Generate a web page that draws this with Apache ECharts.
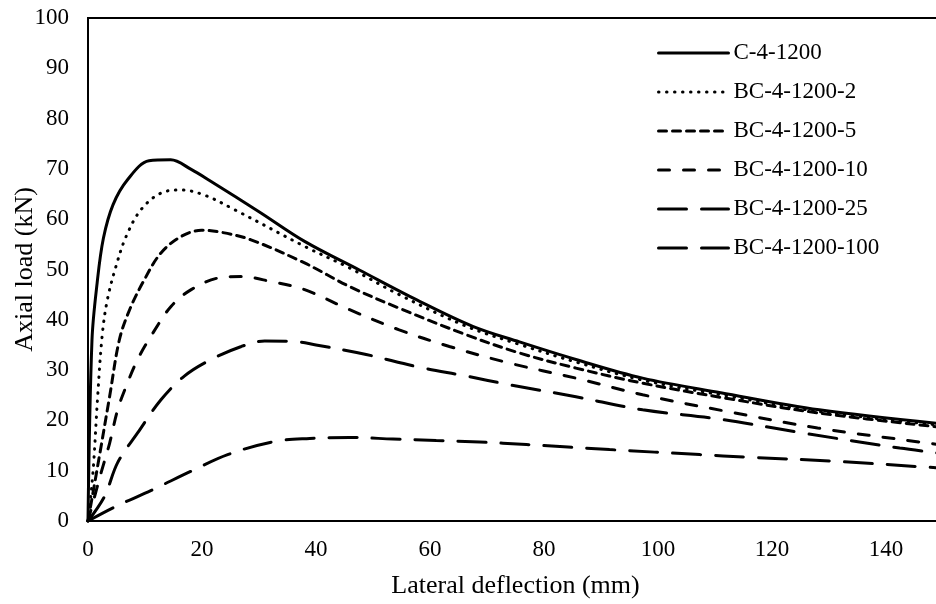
<!DOCTYPE html>
<html>
<head>
<meta charset="utf-8">
<script src="https://cdn.jsdelivr.net/npm/echarts@6/dist/echarts.min.js"></script>
<style>html,body{margin:0;padding:0;background:#fff;}#c{width:936px;height:604px;}</style>
</head>
<body>
<div id="c"></div>
<script>
// Data
var seriesNames = ['C-4-1200', 'BC-4-1200-2', 'BC-4-1200-5', 'BC-4-1200-10', 'BC-4-1200-25', 'BC-4-1200-100'];

var c1200X = [0, 0.7, 1.6, 2.7, 4.4, 6.9, 10.7, 14.5, 18.1, 21.6, 30, 38, 47.6, 57.6, 67.5, 75.7, 85.6, 97.3, 111, 128.3, 150];
var c1200Y = [0, 36, 47.3, 56.2, 62.9, 67.8, 71.6, 71.8, 69.9, 67.5, 61.5, 55.6, 49.9, 44.0, 38.7, 35.6, 32.1, 28.4, 25.5, 22.1, 19.3];

var bc2X = [0, 0.56, 1.0, 1.7, 2.5, 3.4, 4.9, 6.7, 9.3, 12.8, 16.4, 20.4, 25.7, 38, 45.9, 54.6, 66.4, 75.7, 85.6, 97.3, 112, 128, 150];
var bc2Y = [0, 5.7, 11.6, 24.8, 37, 44, 50.6, 56.6, 61.9, 65.2, 65.8, 64.8, 61.9, 54.6, 50.3, 45, 38.7, 35.1, 31.6, 28.0, 24.9, 21.8, 19.0];

var bc5X = [0, 2.0, 3.8, 5.5, 7.3, 9.9, 12.8, 16.4, 19.9, 23.4, 28.6, 38, 45.9, 54.6, 66.4, 75.7, 85.6, 97.3, 112.5, 128, 150];
var bc5Y = [0, 12.9, 24.8, 36, 42, 48, 53.3, 56.6, 57.8, 57.4, 55.9, 51.3, 46.6, 42.3, 37.0, 33.4, 30.4, 27.4, 24.3, 21.5, 18.6];

var bc10X = [0, 2.3, 3.8, 5.2, 6.7, 8.7, 11.4, 14.6, 18.1, 22.8, 26.9, 32.1, 38, 45.9, 54.6, 63.4, 73.9, 85.6, 97.3, 112, 128, 145.9, 150];
var bc10Y = [0, 9.6, 15.5, 22.1, 26.8, 32.1, 37.4, 42.7, 46, 48.3, 48.6, 47.6, 46, 42, 38, 34.7, 31.4, 28.4, 25.1, 21.8, 18.5, 15.7, 15.1];

var bc25X = [0, 2.9, 5.2, 8.7, 12.8, 16.9, 21.6, 26.9, 31, 36.2, 40, 48.8, 57.6, 66.4, 73.9, 85.6, 97.3, 110.5, 125.4, 142.4, 150];
var bc25Y = [0, 4.9, 11.6, 17.5, 24.1, 28.8, 32.1, 34.7, 35.8, 35.7, 35.0, 33.1, 30.7, 28.8, 27.1, 24.7, 22.1, 20.3, 17.5, 14.5, 13.4];

var bc100X = [0, 4.7, 11.1, 18.1, 24.5, 32.7, 38.9, 45.9, 53.5, 61.1, 68.7, 76.9, 91.5, 107.3, 115.5, 130.7, 145.9, 150];
var bc100Y = [0, 2.8, 6.1, 9.9, 13.2, 15.8, 16.4, 16.6, 16.3, 16.0, 15.7, 15.2, 14.2, 13.2, 12.7, 11.9, 10.8, 10.5];

var xTicks = [0, 20, 40, 60, 80, 100, 120, 140];
var yTicks = [0, 10, 20, 30, 40, 50, 60, 70, 80, 90, 100];

var allX = [c1200X, bc2X, bc5X, bc10X, bc25X, bc100X];
var allY = [c1200Y, bc2Y, bc5Y, bc10Y, bc25Y, bc100Y];

function pairs(xs, ys) { return xs.map(function (x, i) { return [x, ys[i]]; }); }

var styles = [
  { type: 'solid', width: 3, cap: 'round' },
  { type: [0.5, 7.5], width: 3, cap: 'round' },
  { type: [8, 6], width: 3, cap: 'round' },
  { type: [11, 14], width: 3, cap: 'round' },
  { type: [28, 15], width: 3, cap: 'round' },
  { type: [28, 15], width: 3, cap: 'round' }
];

var FONT = '"Liberation Serif", "Times New Roman", serif';

var chart = echarts.init(document.getElementById('c'), null, { renderer: 'canvas' });
chart.setOption({
  animation: false,
  backgroundColor: '#fff',
  grid: {
    left: 88, top: 18, width: 855, height: 503,
    containLabel: false, outerBoundsMode: 'none',
    show: true, borderColor: '#000', borderWidth: 2, backgroundColor: 'transparent'
  },
  legend: {
    orient: 'vertical',
    left: 652, top: 35,
    itemWidth: 70, itemHeight: 14, itemGap: 13,
    itemStyle: { color: 'rgba(0,0,0,0)', borderWidth: 0, opacity: 0 },
    textStyle: { fontFamily: FONT, fontSize: 23, color: '#000', lineHeight: 26 },
    data: seriesNames.map(function (n, i) {
      return { name: n, lineStyle: styles[i], itemStyle: { color: 'rgba(0,0,0,0)', borderWidth: 0, opacity: 0 } };
    })
  },
  xAxis: {
    type: 'value', min: 0, max: 150, interval: 20,
    name: 'Lateral deflection (mm)', nameLocation: 'middle', nameGap: 52,
    nameMoveOverlap: false,
    nameTextStyle: { fontFamily: FONT, fontSize: 26, color: '#000' },
    axisLine: { show: true, lineStyle: { color: '#000', width: 2 } },
    axisTick: { show: false },
    splitLine: { show: false },
    axisLabel: {
      fontFamily: FONT, fontSize: 23, color: '#000', margin: 17,
      formatter: function (v) { return xTicks.indexOf(v) >= 0 ? String(v) : ''; }
    }
  },
  yAxis: {
    type: 'value', min: 0, max: 100, interval: 10,
    name: 'Axial load (kN)', nameLocation: 'middle', nameGap: 50,
    nameMoveOverlap: false,
    nameTextStyle: { fontFamily: FONT, fontSize: 26, color: '#000' },
    axisLine: { show: true, lineStyle: { color: '#000', width: 2 } },
    axisTick: { show: false },
    splitLine: { show: false },
    axisLabel: {
      fontFamily: FONT, fontSize: 23, color: '#000', margin: 19,
      formatter: function (v) { return yTicks.indexOf(v) >= 0 ? String(v) : ''; }
    }
  },
  series: seriesNames.map(function (n, i) {
    return {
      name: n, type: 'line',
      data: pairs(allX[i], allY[i]),
      showSymbol: false, symbol: 'none',
      smooth: 0.35,
      color: '#000',
      lineStyle: Object.assign({ color: '#000' }, styles[i])
    };
  })
});
</script>
</body>
</html>
